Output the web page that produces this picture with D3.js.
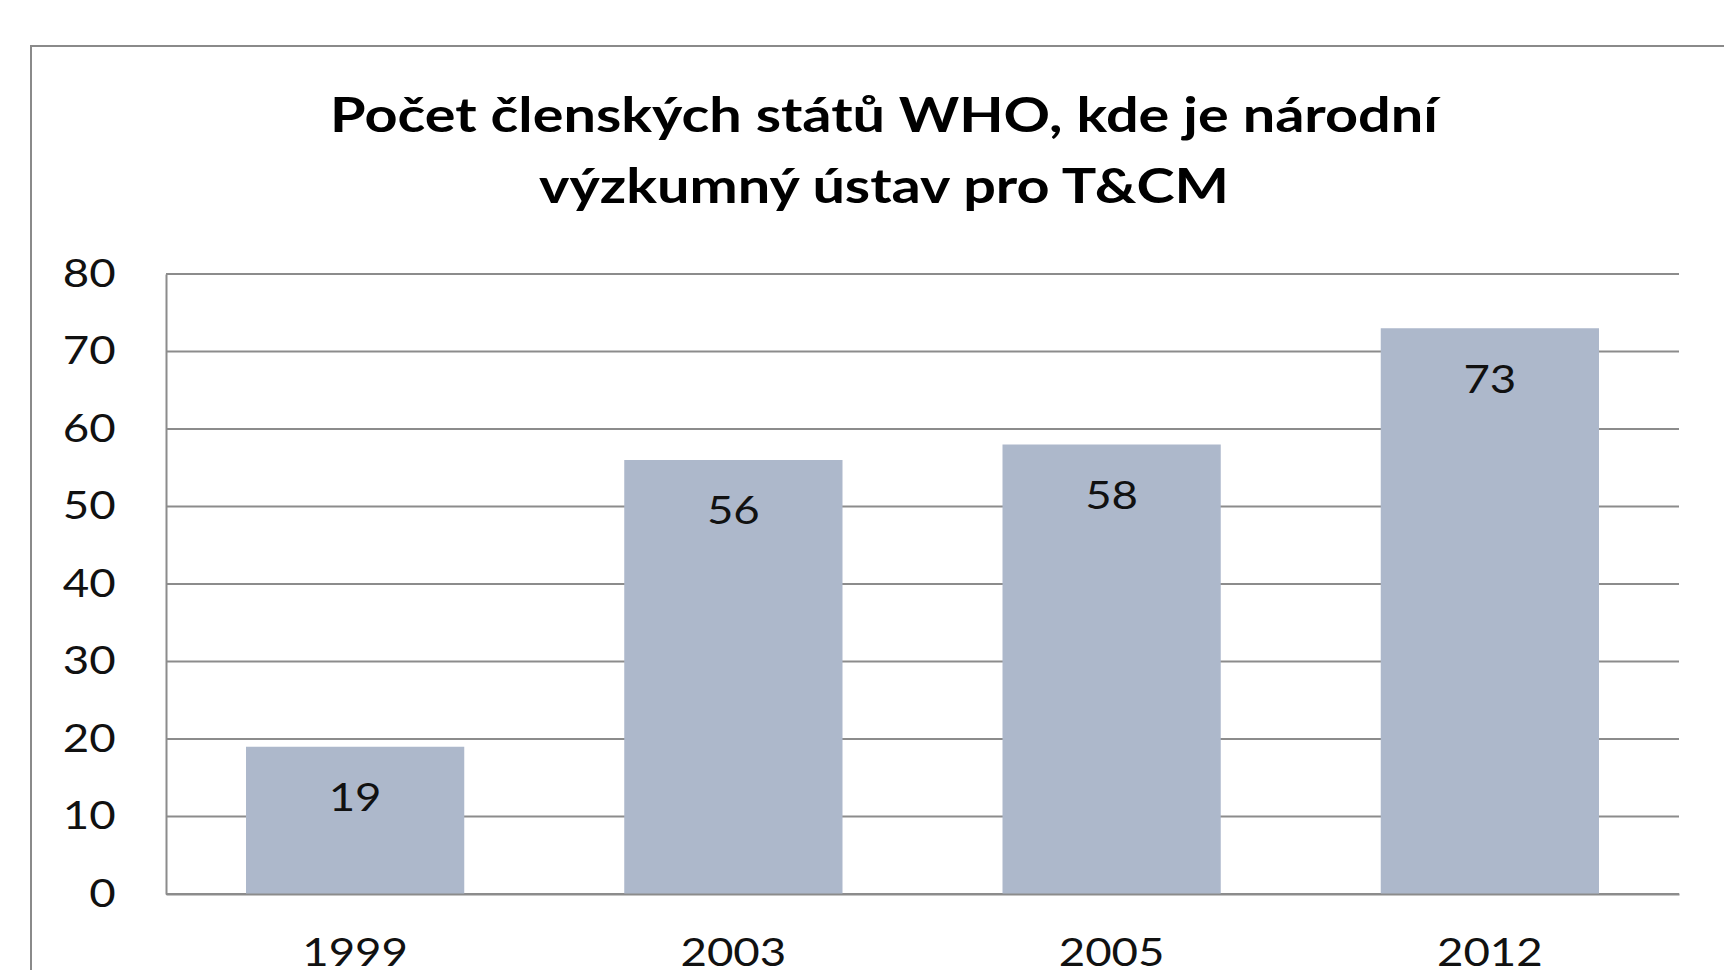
<!DOCTYPE html>
<html>
<head>
<meta charset="utf-8">
<script src="https://cdn.jsdelivr.net/npm/d3@7"></script>
<style>
  body { margin: 0; background: #fff; }
  svg { display: block; }
</style>
</head>
<body>
<div id="chart"></div>
<script>
const years = ["1999", "2003", "2005", "2012"];
const counts = [19, 56, 58, 73];
const yTicks = [0, 10, 20, 30, 40, 50, 60, 70, 80];
const titleLines = ["Počet členských států WHO, kde je národní", "výzkumný ústav pro T&CM"];

const width = 1724, height = 970;
const margin = {top: 274, right: 45, bottom: 76, left: 166};
const font = "Lato, 'Open Sans', sans-serif";
const stretch = 1.2; // the original picture is a bit wider than tall

let svg = d3.select("#chart")
    .append("svg")
    .attr("width", width)
    .attr("height", height);

// outer chart frame (runs off the right and bottom edge)
svg.append("rect")
    .attr("x", 31)
    .attr("y", 46)
    .attr("width", 1740)
    .attr("height", 1000)
    .attr("fill", "none")
    .attr("stroke", "#8a8a8a")
    .attr("stroke-width", 2);

let title = svg.append("text")
    .attr("transform", `translate(884,0) scale(${stretch},1)`)
    .attr("text-anchor", "middle")
    .style("font-family", font)
    .style("font-weight", 700)
    .style("font-size", "48px")
    .attr("fill", "#000");
title.selectAll("tspan").data(titleLines)
    .enter()
    .append("tspan")
    .attr("x", 0)
    .attr("y", function(d, i) { return 132 + i * 71; })
    .text(function(d) { return d; });

let x = d3.scaleBand()
    .domain(years)
    .range([margin.left, width - margin.right])
    .paddingInner(0.423)
    .paddingOuter(0.2115);

let y = d3.scaleLinear()
    .domain([0, 80])
    .range([height - margin.bottom, margin.top]);

// gridlines
svg.append("g")
    .selectAll("line")
    .data(yTicks)
    .enter()
    .append("line")
    .attr("x1", margin.left)
    .attr("x2", width - margin.right)
    .attr("y1", function(d) { return y(d); })
    .attr("y2", function(d) { return y(d); })
    .attr("stroke", "#8c8c8c")
    .attr("stroke-width", 2);

// y axis
let yAxis = svg.append("g")
    .attr("transform", `translate(${margin.left},0)`)
    .call(d3.axisLeft(y).tickValues(yTicks).tickSize(0).tickPadding(42));
yAxis.select(".domain").attr("stroke", "#8c8c8c").attr("stroke-width", 2);
yAxis.selectAll("text")
    .attr("transform", `scale(${stretch},1)`)
    .style("font-family", font)
    .style("font-size", "38px")
    .attr("fill", "#111");

svg.append("g")
    .selectAll("rect")
    .data(counts)
    .enter()
    .append("rect")
    .attr("x", function(d, i) { return x(years[i]); })
    .attr("y", function(d) { return y(d); })
    .attr("width", x.bandwidth())
    .attr("height", function(d) { return y(0) - y(d); })
    .attr("fill", "#adb8cb");

// x axis
let xAxis = svg.append("g")
    .attr("transform", `translate(0,${y(0)})`)
    .call(d3.axisBottom(x).tickSize(0).tickPadding(45));
xAxis.select(".domain").attr("stroke", "#8c8c8c").attr("stroke-width", 2);
xAxis.selectAll("text")
    .attr("transform", `scale(${stretch},1)`)
    .style("font-family", font)
    .style("font-size", "38px")
    .attr("fill", "#111");

// value labels inside the bars
svg.append("g")
    .selectAll("text")
    .data(counts)
    .enter()
    .append("text")
    .attr("transform", function(d, i) {
        return `translate(${x(years[i]) + x.bandwidth() / 2},${y(d) + 50}) scale(${stretch},1)`;
    })
    .attr("text-anchor", "middle")
    .attr("dominant-baseline", "central")
    .style("font-family", font)
    .style("font-size", "38px")
    .attr("fill", "#111")
    .text(function(d) { return d; });
</script>
</body>
</html>
